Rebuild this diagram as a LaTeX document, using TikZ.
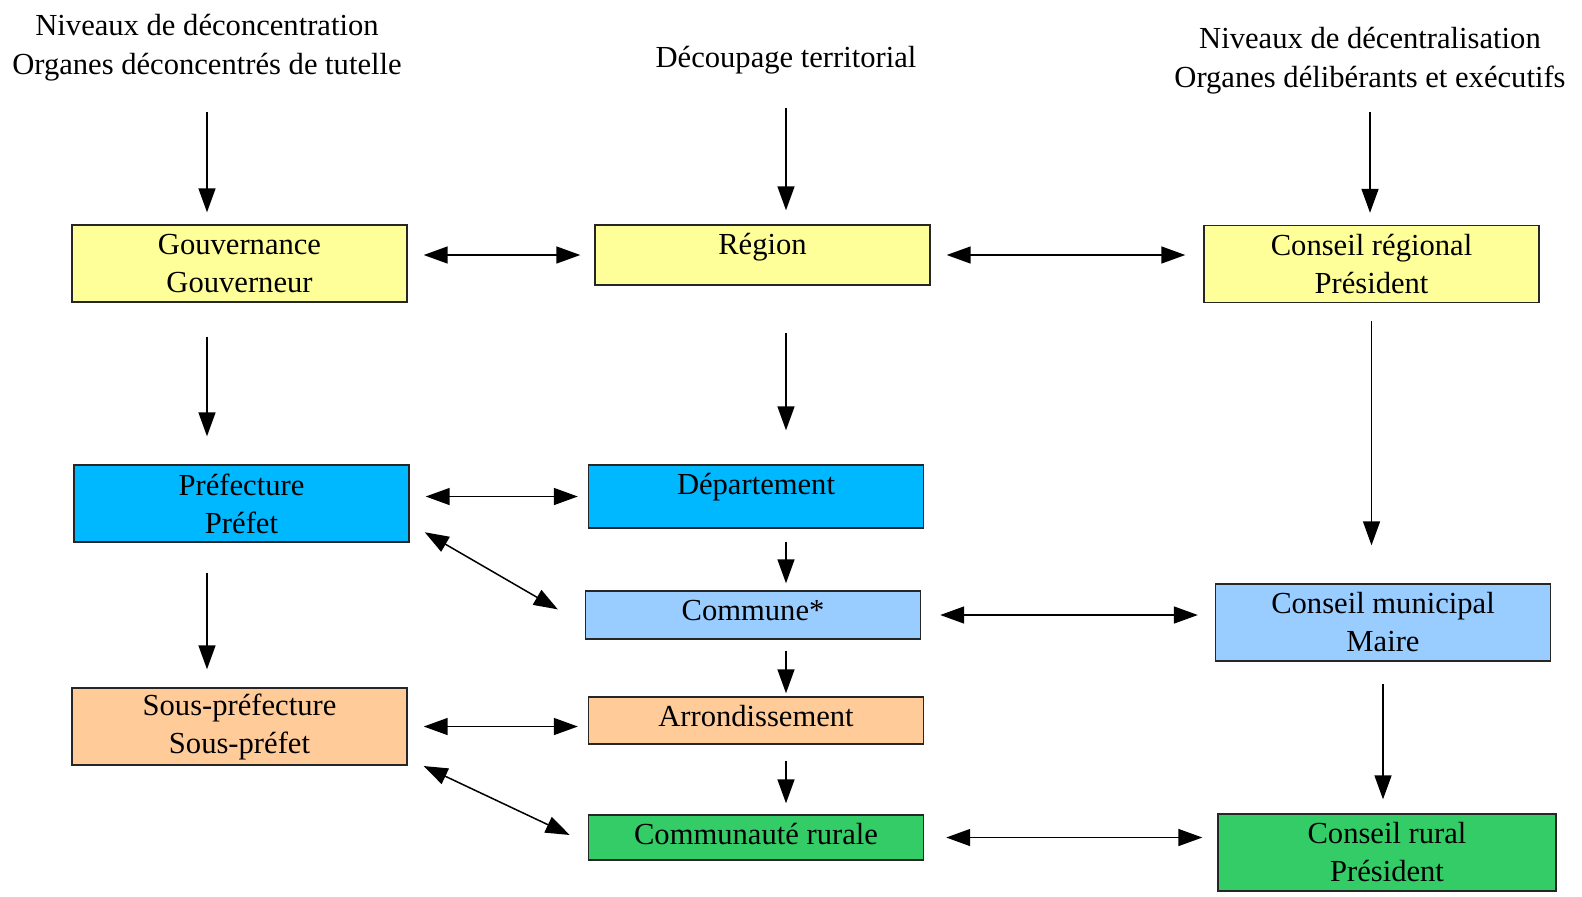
\documentclass[tikz,border=0pt]{standalone}
\usepackage{fontspec}
\setmainfont{Liberation Serif}
\usetikzlibrary{arrows.meta}
\definecolor{jaune}{HTML}{FFFF99}
\definecolor{bleu}{HTML}{00B8FF}
\definecolor{bleuclair}{HTML}{99CCFF}
\definecolor{saumon}{HTML}{FFCC99}
\definecolor{vert}{HTML}{33CC66}
\begin{document}
\begin{tikzpicture}[x=0.5pt,y=-0.5pt,font=\fontsize{15.3}{19}\selectfont,
  boite/.style={draw=black!85,line width=0.7pt,minimum width=167.5pt,inner sep=0pt},
  haut/.style={text height=14.5pt},
  deux/.style={align=center,minimum height=38.5pt},
  titre/.style={align=center,font=\fontsize{15.3}{19.5}\selectfont},
  fl/.style={line width=0.75pt,-{Triangle[length=12pt,width=8.5pt]}},
  dfl/.style={line width=0.75pt,{Triangle[length=12pt,width=8.5pt]}-{Triangle[length=12pt,width=8.5pt]},shorten <=8pt,shorten >=7pt}]
\useasboundingbox (0,0) rectangle (1582,896);
\node[titre] (h1) at (207,47.4) {Niveaux de déconcentration\\Organes déconcentrés de tutelle};
\node[titre] (h2) at (786,59.9) {Découpage territorial};
\node[titre] (h3) at (1370,60.3) {Niveaux de décentralisation\\Organes délibérants et exécutifs};
\node[boite,deux,fill=jaune] (gouv) at (239.5,263.5) {Gouvernance\\Gouverneur};
\node[boite,haut,text depth=15.5pt,fill=jaune] (region) at (762.5,255) {Région};
\node[boite,deux,fill=jaune] (creg) at (1371.5,264) {Conseil régional\\Président};
\node[boite,deux,fill=bleu] (pref) at (241.5,503.5) {Préfecture\\Préfet};
\node[boite,haut,text depth=17pt,fill=bleu] (dep) at (756,496.5) {Département};
\node[boite,haut,text depth=9.5pt,fill=bleuclair] (commune) at (753,615) {Commune*};
\node[boite,deux,fill=bleuclair] (cmun) at (1383,622.5) {Conseil municipal\\Maire};
\node[boite,deux,fill=saumon] (sp) at (239.5,726.5) {Sous-préfecture\\Sous-préfet};
\node[boite,haut,text depth=9pt,fill=saumon] (arr) at (756,720.5) {Arrondissement};
\node[boite,haut,text depth=8pt,fill=vert] (comrur) at (756,837.5) {Communauté rurale};
\node[boite,deux,fill=vert,minimum width=169pt] (crur) at (1387,852.5) {Conseil rural\\Président};
\path[fl] (h1.south) edge[shorten <=12pt,shorten >=6pt] (h1.south |- gouv.north)
  (h2.south) edge[shorten <=13.6pt,shorten >=7pt] (h2.south |- region.north)
  (h3.south) edge[shorten <=5.6pt,shorten >=6pt] (h3.south |- creg.north);
\path[fl] (h1.south |- gouv.south) edge[shorten <=17pt,shorten >=14pt] (h1.south |- pref.north)
  (h1.south |- pref.south) edge[shorten <=15pt,shorten >=9pt] (h1.south |- sp.north)
  (h2.south |- region.south) edge[shorten <=23.5pt,shorten >=17pt] (h2.south |- dep.north)
  (h2.south |- dep.south) edge[shorten <=6.5pt,shorten >=3.5pt] (h2.south |- commune.north)
  (h2.south |- commune.south) edge[shorten <=5.5pt,shorten >=1.5pt] (h2.south |- arr.north)
  (h2.south |- arr.south) edge[shorten <=8pt,shorten >=5.5pt] (h2.south |- comrur.north)
  (creg.south) edge[shorten <=9pt,shorten >=19pt] (creg.south |- cmun.north)
  (cmun.south) edge[shorten <=11pt,shorten >=7pt] (cmun.south |- crur.north);
\path[dfl] (region.west -| gouv.east) edge (region.west)
  (region.east) edge[shorten >=9pt] (region.east -| creg.west)
  (dep.west -| pref.east) edge[shorten >=5pt] (dep.west)
  (commune.east) edge[shorten <=9.5pt,shorten >=8.5pt] (commune.east -| cmun.west)
  (sp.east) edge[shorten >=5pt] (sp.east -| arr.west)
  (comrur.east) edge[shorten <=11pt,shorten >=7.5pt] (comrur.east -| crur.west)
  ([yshift=-10pt]pref.east) edge[shorten <=8.7pt,shorten >=15.6pt] ([yshift=-5pt]commune.west)
  ([yshift=-16pt]sp.east) edge[shorten <=8.8pt,shorten >=10pt] ([yshift=-3pt]comrur.west);
\end{tikzpicture}
\end{document}
